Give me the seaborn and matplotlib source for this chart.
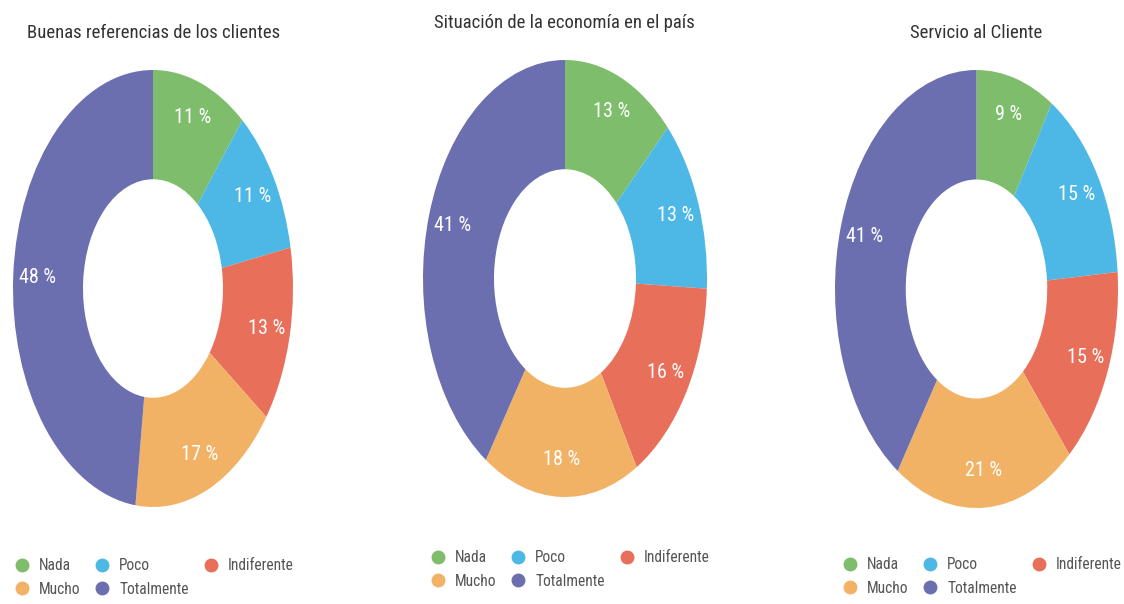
import matplotlib
matplotlib.use("Agg")
import matplotlib.pyplot as plt
from matplotlib.lines import Line2D
import seaborn as sns

# ---- data ----
categories = ["Nada", "Poco", "Indiferente", "Mucho", "Totalmente"]
titles = ["Buenas referencias de los clientes",
          "Situación de la economía en el país",
          "Servicio al Cliente"]
values_referencias = [11, 11, 13, 17, 48]
values_economia = [13, 13, 16, 18, 41]
values_servicio = [9, 15, 15, 21, 41]
series = [values_referencias, values_economia, values_servicio]
colors = ["#7dbd6b", "#4db8e6", "#e86f5a", "#f2b266", "#6b6fb0"]

sns.set_theme(style="white")
plt.rcParams["font.family"] = ["Roboto Condensed", "DejaVu Sans"]

W, H = 1124, 604
fig = plt.figure(figsize=(W / 100, H / 100), dpi=100)
fig.patch.set_facecolor("white")

def fx(x):
    return x / W

def fy(y):
    return 1 - y / H

# pie boxes in pixels: (left, top, right, bottom)
boxes = [(13, 70, 293, 507), (423, 60, 707, 497), (835, 70, 1118, 508)]
title_pos = [(154, 33), (564, 23), (976, 33)]
legend_anchor = [(14, 558), (430, 550), (842, 557)]

palette = sns.color_palette(colors)

for i, vals in enumerate(series):
    l, t, r, b = boxes[i]
    ax = fig.add_axes([fx(l), fy(b), (r - l) / W, (b - t) / H])
    wedges, texts, autotexts = ax.pie(
        vals, colors=palette, startangle=90, counterclock=False,
        radius=1.0, wedgeprops=dict(width=0.5, linewidth=0),
        autopct=lambda p: "", pctdistance=0.83)
    for at, v in zip(autotexts, vals):
        at.set_text(f"{v} %")
        at.set_color("white")
        at.set_fontsize(14.5)
    ax.set_aspect("auto")
    ax.set_xlim(-1, 1)
    ax.set_ylim(-1, 1)
    ax.axis("off")

    tx, ty = title_pos[i]
    fig.text(fx(tx), fy(ty), titles[i], ha="center", va="center",
             fontsize=13.5, color="#333333")

    handles = [Line2D([0], [0], marker="o", linestyle="none", markersize=9,
                      markerfacecolor=c, markeredgecolor=c) for c in colors]
    order = [0, 3, 1, 4, 2]
    lx, ly = legend_anchor[i]
    fig.legend([handles[k] for k in order], [categories[k] for k in order],
               loc="upper left", bbox_to_anchor=(fx(lx), fy(ly)),
               bbox_transform=fig.transFigure, ncol=3, frameon=False,
               borderpad=0, handlelength=1.0, handletextpad=0.6,
               columnspacing=0.9, labelspacing=0.55, fontsize=11.2,
               labelcolor="#555555", borderaxespad=0)

fig.savefig("out.png", dpi=100, facecolor="white")
